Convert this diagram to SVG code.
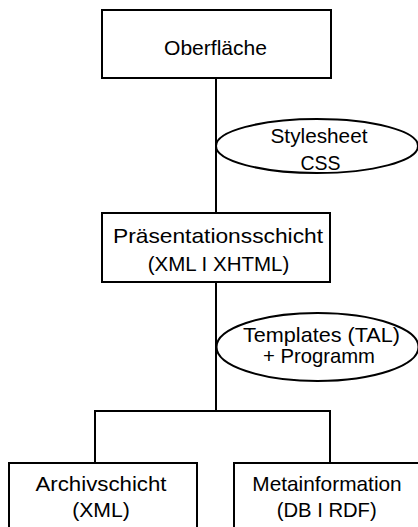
<svg xmlns="http://www.w3.org/2000/svg" width="418" height="527" viewBox="0 0 418 527">
<style>
.box{fill:#fff;stroke:#000;stroke-width:2}
.ell{fill:#fff;stroke:#000;stroke-width:2}
.con{fill:none;stroke:#000;stroke-width:2}
text{font-family:"Liberation Sans",Arial,sans-serif;font-size:21px;fill:#000;text-anchor:middle}
</style>
<rect width="418" height="527" fill="#fff"/>
<g id="connectors">
<line class="con" x1="216" y1="78" x2="216" y2="213"/>
<line class="con" x1="216" y1="282" x2="216" y2="411"/>
<polyline class="con" points="95,463 95,411 330,411 330,463"/>
</g>
<g id="oberflaeche">
<rect class="box" x="102" y="10" width="229" height="68"/>
<text x="215.5" y="54.5" textLength="103" lengthAdjust="spacingAndGlyphs">Oberfläche</text>
</g>
<g id="stylesheet">
<ellipse class="ell" cx="317" cy="146" rx="101" ry="27"/>
<text x="319" y="142.5" textLength="97" lengthAdjust="spacingAndGlyphs">Stylesheet</text>
<text x="320.5" y="170" textLength="40" lengthAdjust="spacingAndGlyphs">CSS</text>
</g>
<g id="praesentation">
<rect class="box" x="102" y="213" width="228" height="69"/>
<text x="218" y="242.7" textLength="210" lengthAdjust="spacingAndGlyphs">Präsentationsschicht</text>
<text x="218.5" y="271" textLength="141.5" lengthAdjust="spacingAndGlyphs">(XML I XHTML)</text>
</g>
<g id="templates">
<ellipse class="ell" cx="317.5" cy="347" rx="101" ry="34"/>
<text x="321.5" y="341.7" textLength="157" lengthAdjust="spacingAndGlyphs">Templates (TAL)</text>
<text x="319" y="363.3" textLength="112" lengthAdjust="spacingAndGlyphs">+ Programm</text>
</g>
<g id="archiv">
<rect class="box" x="9" y="463" width="188" height="80"/>
<text x="101" y="490.7" textLength="131" lengthAdjust="spacingAndGlyphs">Archivschicht</text>
<text x="101" y="517.3" textLength="57.7" lengthAdjust="spacingAndGlyphs">(XML)</text>
</g>
<g id="meta">
<rect class="box" x="234" y="463" width="200" height="80"/>
<text x="327" y="490.7" textLength="149.4" lengthAdjust="spacingAndGlyphs">Metainformation</text>
<text x="326.7" y="517.3" textLength="100" lengthAdjust="spacingAndGlyphs">(DB I RDF)</text>
</g>
</svg>
